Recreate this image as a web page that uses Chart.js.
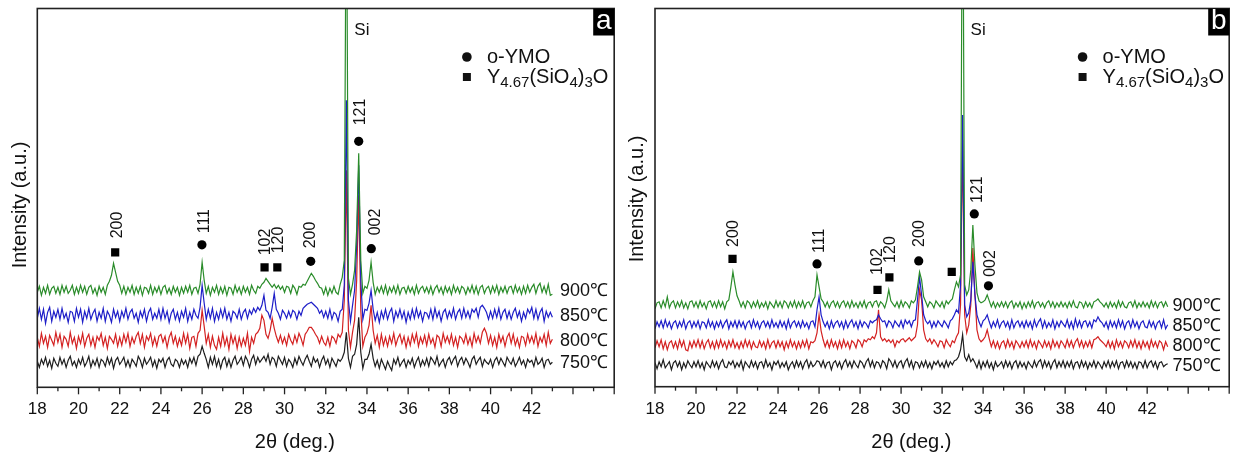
<!DOCTYPE html>
<html>
<head>
<meta charset="utf-8">
<title>XRD patterns a / b</title>
<script src="https://cdn.jsdelivr.net/npm/chart.js@4.4.1/dist/chart.umd.min.js"></script>
<style>
  html, body { margin: 0; padding: 0; background: #fff; }
  #wrap { position: relative; width: 1235px; height: 455px; }
  canvas { position: absolute; top: 0; }
  #chartA { left: 0; }
  #chartB { left: 620px; }
</style>
</head>
<body>
<div id="wrap">
  <canvas id="chartA" width="620" height="455"></canvas>
  <canvas id="chartB" width="615" height="455"></canvas>
</div>
<script>
// 2θ sampling grid: 18.0 .. 43.0 deg, 0.1 deg step (one row below = 1 deg)
const twoTheta = [];
for (let i = 0; i <= 250; i++) twoTheta.push(+(18 + i * 0.1).toFixed(1));

const temps = ['750℃', '800℃', '850℃', '900℃'];
const lineColors = ['#1e1e1e', '#d42222', '#1e1ec8', '#2a8c2a'];

// vertical stacking offsets (a.u.) for 750/800/850/900 traces
const offsetsA = [25, 47, 72, 97];
const offsetsB = [22, 42, 62, 82];

// ---- panel a intensities (relative to each trace's baseline) ----
const a750 = [
  1,-5,3,-2,5,-4,2,-6,4,-1,
  -4,5,-2,3,-5,2,6,-3,1,-5,
  3,-2,5,-4,0,6,-5,2,-3,4,
  -5,3,1,-4,5,-2,4,-6,2,5,
  -2,1,5,-4,2,-5,3,0,-4,6,
  2,-5,4,-2,1,5,-4,2,-6,3,
  0,4,-5,2,5,-2,-4,3,1,-5,
  3,-2,2,-5,4,-1,5,-3,6,8,
  16,9,3,-5,5,-2,6,-4,3,-6,
  2,5,-4,3,-5,2,6,-2,1,5,
  -3,6,2,-5,3,7,-2,5,0,3,
  6,1,8,-2,5,3,-4,6,2,-2,
  5,-4,3,0,-5,4,-2,6,1,-3,
  3,7,1,-4,5,0,3,-5,2,6,
  -2,3,-5,4,0,-4,3,1,4,10,
  30,4,-5,6,8,18,45,10,-6,3,
  3,8,18,4,-4,2,-6,3,-2,-7,
  1,-4,-8,3,-2,5,-4,0,3,-5,
  2,-2,4,-5,1,5,-4,2,-3,4,
  -4,5,2,-2,6,-4,0,3,-5,2,
  5,-2,3,6,-4,2,5,-2,4,0,
  -5,3,6,-2,2,5,-4,3,0,-2,
  3,-5,2,5,-2,4,0,-4,5,1,
  -2,4,-4,0,5,-2,2,-5,3,0,
  2,-4,5,-2,0,4,-5,2,3,-2,
  0
];
const a800 = [
  3,-6,7,-3,4,-7,5,0,-5,8,
  -2,6,-7,4,1,-6,8,-3,3,-8,
  4,-3,7,-6,2,6,-5,3,-7,4,
  0,7,-5,3,-8,4,1,-3,6,-6,
  3,-5,6,-2,7,-6,3,-3,4,8,
  -3,6,-7,4,0,7,-5,3,-6,4,
  6,-2,4,-7,3,8,-3,4,-6,2,
  -5,7,-3,6,-8,3,4,-6,7,10,
  30,14,-3,6,-7,4,-5,-9,3,-6,
  7,-5,3,-9,6,-3,4,-8,3,-6,
  2,-5,7,-11,3,-3,6,8,12,25,
  20,6,2,10,22,12,4,-2,5,-3,
  3,-5,6,0,-4,5,-2,7,2,-5,
  6,9,13,13,10,6,3,-3,4,-2,
  -5,3,-6,4,2,-3,6,3,8,40,
  170,10,-7,8,20,60,145,30,-6,3,
  7,15,35,10,-3,5,-7,6,-5,3,
  -6,4,-3,7,-5,2,6,-3,4,-7,
  3,-5,6,-2,7,-6,3,-3,5,-5,
  6,-3,2,-7,5,3,-6,7,-2,4,
  -3,6,-5,3,-7,4,2,-3,6,-4,
  3,-6,7,-2,4,-3,8,12,7,-3,
  5,-5,3,-7,6,-2,4,-6,3,7,
  -3,6,-5,2,-7,4,3,-5,6,-2,
  4,-3,7,-6,3,-2,6,-5,8,-3,
  1
];
const a850 = [
  -3,7,-4,6,-8,3,8,-6,4,-2,
  6,-4,7,-3,2,-7,4,3,-6,7,
  -2,6,-7,4,-3,7,-4,2,6,-6,
  3,-3,7,-6,4,0,-7,6,-2,4,
  -6,4,-2,7,-4,3,6,-3,2,-7,
  4,-2,6,-6,3,7,-4,2,-3,6,
  -4,7,-3,4,-7,2,6,-4,3,-6,
  4,-2,7,-6,3,-4,6,0,-3,8,
  30,12,-4,6,-3,7,-6,3,-4,6,
  -2,7,-4,3,-6,4,2,-3,6,-4,
  3,6,-3,5,1,7,3,8,5,10,
  20,5,3,-3,8,22,6,2,-4,5,
  2,-3,4,-2,5,3,-4,4,0,7,
  9,11,12,13,11,9,7,2,5,-2,
  4,-3,6,-4,3,1,-6,4,6,30,
  215,15,-6,10,25,70,150,35,-4,6,
  5,12,25,6,-5,3,-7,4,-3,6,
  -4,3,7,-6,4,-2,6,-3,4,-7,
  3,-4,6,-3,7,-2,4,-6,3,2,
  -3,6,-4,7,-2,4,-6,3,6,-3,
  4,-2,7,-4,3,6,-3,7,-2,4,
  -3,6,3,7,-2,8,10,7,3,-4,
  4,-3,6,-2,7,-4,3,6,-3,4,
  -4,3,7,-2,4,-6,3,-3,6,2,
  8,-3,6,-4,3,7,-6,4,-2,3,
  -2
];
const a900 = [
  -2,4,-5,3,-3,5,-4,2,4,-3,
  3,-4,5,-2,4,-3,0,5,-4,3,
  -3,5,-2,4,-4,3,5,-3,2,-5,
  4,-2,3,-4,5,9,15,27,18,9,
  5,-3,4,-4,3,-2,5,-4,3,-3,
  4,-5,3,2,-3,5,-4,3,-2,4,
  -4,3,5,-3,2,-4,4,-2,3,-5,
  3,-3,4,-2,5,-4,2,3,-3,6,
  28,10,-3,4,-5,3,-2,5,-4,3,
  -3,4,-5,3,2,-4,5,-2,3,-4,
  4,-2,3,-4,5,0,-3,4,2,6,
  8,12,9,6,3,6,2,5,1,4,
  -2,4,3,-3,5,2,-4,4,3,6,
  5,9,13,17,14,10,7,3,2,-4,
  3,-5,2,-3,4,-2,-4,6,13,30,
  450,12,-4,6,20,60,137,30,-3,4,
  2,10,28,8,-4,3,-2,4,-3,5,
  -4,3,-2,4,-3,5,-4,2,3,-3,
  4,-2,3,-4,5,-3,2,4,-2,3,
  -3,4,-4,2,5,-2,3,-4,4,-2,
  3,-4,5,-2,3,-3,4,2,-4,3,
  -2,5,-3,4,-4,3,5,-3,2,4,
  -3,4,-2,5,-4,3,-2,4,-3,3,
  4,-3,5,-2,3,-4,4,-3,5,-2,
  3,6,-3,4,7,-2,4,-3,6,-5,
  -4
];

// ---- panel b intensities ----
const b750 = [
  2,-4,3,-2,5,-3,0,3,-5,2,
  4,-2,3,-5,2,-3,4,0,-3,3,
  -2,4,-3,2,-5,3,0,-3,4,-2,
  3,-4,2,5,-2,-3,3,0,4,-3,
  2,-2,4,-5,3,0,-3,4,-2,3,
  -4,2,3,-3,5,-2,2,-5,3,0,
  4,-3,2,-2,3,-5,0,3,-3,4,
  -2,3,-4,2,5,-3,3,-2,0,4,
  3,-2,4,-3,2,3,-5,2,4,-2,
  3,-4,2,5,-2,3,-3,4,0,-3,
  4,2,-3,3,6,-2,4,-3,3,2,
  -3,4,2,-4,6,3,-2,4,-3,2,
  4,-3,3,6,-2,4,-4,3,2,-3,
  3,-2,4,-3,2,-4,3,0,4,-2,
  2,-3,4,-2,3,0,4,5,8,15,
  30,8,4,10,3,6,2,-3,4,-4,
  3,-2,4,-3,2,-5,3,-2,0,3,
  -3,4,-2,3,-4,2,4,-3,3,-2,
  2,-4,3,0,-3,4,-2,3,5,-3,
  4,-2,3,-4,2,5,-3,3,-2,4,
  -3,3,-2,4,-4,2,3,-3,4,-2,
  3,-4,2,-2,4,-3,3,0,-4,3,
  -2,4,-3,3,-2,4,-4,2,3,-3,
  4,-2,3,-3,2,-4,3,2,-3,4,
  -3,2,4,-2,3,-4,2,3,-2,0,
  1
];
const b800 = [
  -3,4,-2,5,-4,3,-5,2,4,-3,
  3,-4,5,-2,4,-5,-6,3,-3,4,
  -2,5,-3,4,-4,2,5,-3,3,-4,
  4,-3,5,-2,3,-4,4,-2,5,-3,
  2,-4,3,-3,5,-2,4,-4,3,-2,
  -3,4,-2,3,-4,5,-3,2,4,-3,
  4,-2,3,-5,3,-3,5,-2,3,-4,
  3,-3,4,-2,5,-4,3,2,4,12,
  30,14,5,-2,4,-3,5,-2,3,-4,
  4,-3,5,-2,3,-4,4,2,-3,5,
  3,-2,5,3,6,5,8,6,12,35,
  8,4,6,3,5,2,5,-2,4,2,
  5,6,3,5,7,4,6,8,20,55,
  45,15,6,3,6,1,5,2,-2,4,
  3,-3,5,1,-2,4,2,8,12,40,
  205,30,12,20,40,97,50,15,6,3,
  5,8,15,6,-2,4,-3,3,-4,2,
  4,-3,5,-2,3,-4,4,1,-3,3,
  -2,4,-3,5,-2,3,-4,4,1,-3,
  4,-2,3,-4,5,-2,3,-3,4,1,
  -3,5,-2,4,-3,3,6,-2,4,-3,
  3,-2,4,-3,5,6,8,5,3,1,
  -2,4,-3,3,-4,5,-2,3,-3,4,
  2,-3,4,-2,5,-3,3,-4,4,-2,
  3,-4,5,-2,3,-3,4,2,-5,3,
  -2
];
const b850 = [
  -4,3,-2,4,-3,5,-2,3,-4,2,
  4,-3,3,-2,5,-4,2,4,-3,3,
  -2,4,-4,3,2,-3,5,-2,3,-4,
  3,-2,4,-3,2,5,-4,3,-2,4,
  -3,4,-2,3,-4,2,4,-3,5,-2,
  3,-4,2,4,-2,3,-3,5,-2,2,
  -3,4,-2,3,-4,5,-3,2,4,-2,
  3,-3,4,-2,2,-4,3,4,-2,15,
  28,10,3,-2,3,-4,4,-3,2,4,
  -2,3,-4,4,-3,2,5,-2,3,-4,
  4,-2,3,1,-3,4,2,4,5,10,
  6,3,4,-2,4,2,-3,4,1,-2,
  4,-3,5,1,4,-2,4,5,25,48,
  30,10,4,1,4,-3,3,-2,4,1,
  -2,4,1,-3,4,6,10,15,12,40,
  210,20,8,12,25,63,30,10,3,-2,
  4,6,10,3,-3,3,-2,5,-3,2,
  4,-2,3,-4,5,-3,2,4,-2,3,
  -3,4,-2,3,-4,5,-2,3,6,-3,
  4,-3,2,-2,5,-4,3,-2,4,1,
  -2,5,-3,3,-4,6,-2,4,-3,3,
  4,-2,3,-3,5,3,8,4,2,-2,
  3,-4,4,-2,3,-3,5,-2,4,-4,
  2,4,-3,5,-2,3,-4,2,4,-2,
  -3,4,-2,3,-4,2,4,-3,5,-4,
  0
];
const b900 = [
  -4,2,3,-3,4,-2,8,-3,2,4,
  -3,3,-2,4,-3,2,-4,3,4,-2,
  3,-3,4,-2,2,-4,3,4,-2,3,
  -3,4,-2,3,-4,3,5,18,33,20,
  9,4,-2,3,-3,4,2,-3,3,-2,
  4,-3,2,-2,3,-4,3,0,-3,4,
  -2,3,-3,4,2,-3,3,-2,4,-3,
  3,-2,4,-3,2,3,-2,4,8,30,
  18,6,3,-2,3,-3,2,4,-2,3,
  -3,2,4,-2,3,-3,4,-2,2,-3,
  3,-2,4,-3,2,3,-2,3,4,-2,
  3,1,-3,4,15,4,1,-2,3,-3,
  4,-2,3,1,-3,4,2,5,18,33,
  25,8,3,-2,3,1,-3,4,1,-2,
  3,-3,4,1,4,6,15,23,18,30,
  500,20,10,15,35,80,40,12,4,2,
  3,5,10,4,-2,3,-3,2,-2,3,
  -2,3,-3,2,4,-3,2,-2,3,-4,
  2,-3,3,-2,4,-3,2,3,-2,2,
  -3,2,4,-2,3,-3,2,-2,3,-2,
  2,-3,3,-2,4,-2,-3,3,2,-3,
  3,-2,2,-3,3,4,6,3,1,-2,
  2,-3,3,-2,2,-3,4,-2,3,-2,
  -3,2,3,-2,4,-3,2,-2,3,-2,
  2,-3,4,-2,3,-3,2,3,-2,3,
  -2
];

// phase markers: position (2θ) and height (a.u.)
const circlesA = { x: [25.99, 31.27, 33.6, 34.21], y: [142.5, 126, 246, 138.6] };
const squaresA = { x: [21.78, 29.03, 29.65], y: [135, 120, 120] };
const circlesB = { x: [25.9, 30.86, 33.57, 34.26], y: [123, 126, 173, 101] };
const squaresB = { x: [21.78, 28.85, 29.43, 32.47], y: [128, 97, 109.5, 115] };

// Miller index labels (rotated), x = 2θ, y = where the text starts
const hklA = { text: ['200', '111', '102', '120', '200', '121', '002'],
               x: [21.9, 26.1, 29.06, 29.7, 31.28, 33.71, 34.42],
               y: [149, 154, 132, 134, 139, 262, 152] };
const hklB = { text: ['200', '111', '102', '120', '200', '121', '002'],
               x: [21.85, 26.05, 28.85, 29.5, 30.92, 33.75, 34.36],
               y: [140, 134, 112, 124, 140, 184, 110] };

const FONT = '"Liberation Sans", Arial, Helvetica, sans-serif';
Chart.defaults.font.family = FONT;

function toPoints(values, offset) {
  return values.map((v, i) => ({ x: twoTheta[i], y: offset + v }));
}

const panelDecor = {
  id: 'panelDecor',
  afterDraw(chart, args, o) {
    const { ctx, chartArea: area } = chart;
    const x = chart.scales.x, y = chart.scales.y;
    ctx.save();

    // frame
    ctx.strokeStyle = '#222';
    ctx.lineWidth = 1.6;
    ctx.strokeRect(area.left, area.top, area.right - area.left, area.bottom - area.top);

    // outward tick marks, long on even degrees
    ctx.lineWidth = 1.3;
    x.ticks.forEach(t => {
      const px = x.getPixelForValue(t.value);
      const len = t.value % 2 === 0 ? 7 : 4;
      ctx.beginPath();
      ctx.moveTo(px, area.bottom);
      ctx.lineTo(px, area.bottom + len);
      ctx.stroke();
    });

    ctx.fillStyle = '#111';

    // axis titles
    ctx.font = '20px ' + FONT;
    ctx.textAlign = 'center';
    ctx.textBaseline = 'middle';
    ctx.fillText('2θ (deg.)', x.getPixelForValue(30.5), 442);
    ctx.save();
    ctx.translate(o.yTitleX, o.yTitleY);
    ctx.rotate(-Math.PI / 2);
    ctx.fillText('Intensity (a.u.)', 0, 0);
    ctx.restore();

    // Si line label
    ctx.font = '17px ' + FONT;
    ctx.textAlign = 'left';
    ctx.textBaseline = 'alphabetic';
    ctx.fillText('Si', x.getPixelForValue(33.0) + 8, 35);

    // temperature labels
    ctx.font = '18px ' + FONT;
    ctx.textBaseline = 'middle';
    temps.forEach((t, i) => {
      ctx.fillText(t, x.getPixelForValue(o.tempX), y.getPixelForValue(o.offsets[i] - 1));
    });

    // hkl labels
    ctx.font = '16px ' + FONT;
    o.hkl.text.forEach((t, i) => {
      ctx.save();
      ctx.translate(x.getPixelForValue(o.hkl.x[i]), y.getPixelForValue(o.hkl.y[i]));
      ctx.rotate(-Math.PI / 2);
      ctx.textAlign = 'left';
      ctx.textBaseline = 'middle';
      ctx.fillText(t, 0, 0);
      ctx.restore();
    });

    // legend
    const lx = x.getPixelForValue(38.85);
    const ly1 = 57, ly2 = 77;
    ctx.beginPath();
    ctx.arc(lx, ly1, 4.8, 0, Math.PI * 2);
    ctx.fill();
    ctx.fillRect(lx - 4, ly2 - 4, 8, 8);
    ctx.font = '20px ' + FONT;
    ctx.textAlign = 'left';
    ctx.textBaseline = 'middle';
    let tx = lx + 20;
    ctx.fillText('o-YMO', tx, ly1);
    const parts = [['Y', 0], ['4.67', 1], ['(SiO', 0], ['4', 1], [')', 0], ['3', 1], ['O', 0]];
    parts.forEach(([s, sub]) => {
      ctx.font = (sub ? '15px ' : '20px ') + FONT;
      ctx.fillText(s, tx, ly2 + (sub ? 6 : 0));
      tx += ctx.measureText(s).width;
    });

    // panel letter
    const bw = 21, bh = 27;
    ctx.fillStyle = '#000';
    ctx.fillRect(area.right - bw, area.top, bw, bh);
    ctx.fillStyle = '#fff';
    ctx.font = '28px ' + FONT;
    ctx.textAlign = 'center';
    ctx.textBaseline = 'middle';
    ctx.fillText(o.letter, area.right - bw / 2, area.top + bh / 2 - 1);

    ctx.restore();
  }
};

function makePanel(id, traces, offsets, circles, squares, opts) {
  const datasets = [
    { type: 'scatter', data: circles.x.map((v, i) => ({ x: v, y: circles.y[i] })),
      pointStyle: 'circle', pointRadius: 4.6, backgroundColor: '#000', borderWidth: 0, order: 0 },
    { type: 'scatter', data: squares.x.map((v, i) => ({ x: v, y: squares.y[i] })),
      pointStyle: 'rect', pointRadius: 5.8, backgroundColor: '#000', borderWidth: 0, order: 0 }
  ];
  // 900 on top, 750 at the bottom
  traces.forEach((vals, i) => {
    datasets.push({
      type: 'line',
      label: temps[i],
      data: toPoints(vals, offsets[i]),
      borderColor: lineColors[i],
      borderWidth: 1.2,
      pointRadius: 0,
      tension: 0,
      order: 5 - i
    });
  });

  return new Chart(document.getElementById(id), {
    type: 'line',
    data: { datasets },
    options: {
      responsive: false,
      animation: false,
      layout: { padding: opts.padding },
      plugins: {
        legend: { display: false },
        tooltip: { enabled: false },
        panelDecor: opts.decor
      },
      scales: {
        x: {
          type: 'linear', min: 18, max: 46,
          afterFit: s => { s.height = opts.axisHeight; },
          grid: { drawOnChartArea: false, color: 'rgba(0,0,0,0)', tickLength: 7 },
          border: { display: false },
          ticks: {
            stepSize: 1, autoSkip: false, maxRotation: 0, padding: 5,
            color: '#111', font: { size: 17 },
            callback: v => (v % 2 === 0 && v <= 42) ? v : ''
          }
        },
        y: { display: false, min: 0, max: 378.8 }
      }
    },
    plugins: [panelDecor]
  });
}

makePanel('chartA', [a750, a800, a850, a900], offsetsA, circlesA, squaresA, {
  padding: { left: 37.3, right: 4, top: 8.5, bottom: 0 },
  axisHeight: 455 - 387.3,
  decor: { letter: 'a', hkl: hklA, offsets: offsetsA, tempX: 43.37, yTitleX: 20.5, yTitleY: 205 }
});

makePanel('chartB', [b750, b800, b850, b900], offsetsB, circlesB, squaresB, {
  padding: { left: 35, right: 1.7, top: 8.5, bottom: 0 },
  axisHeight: 455 - 386.7,
  decor: { letter: 'b', hkl: hklB, offsets: offsetsB, tempX: 43.24, yTitleX: 17.6, yTitleY: 199 }
});
</script>
</body>
</html>
